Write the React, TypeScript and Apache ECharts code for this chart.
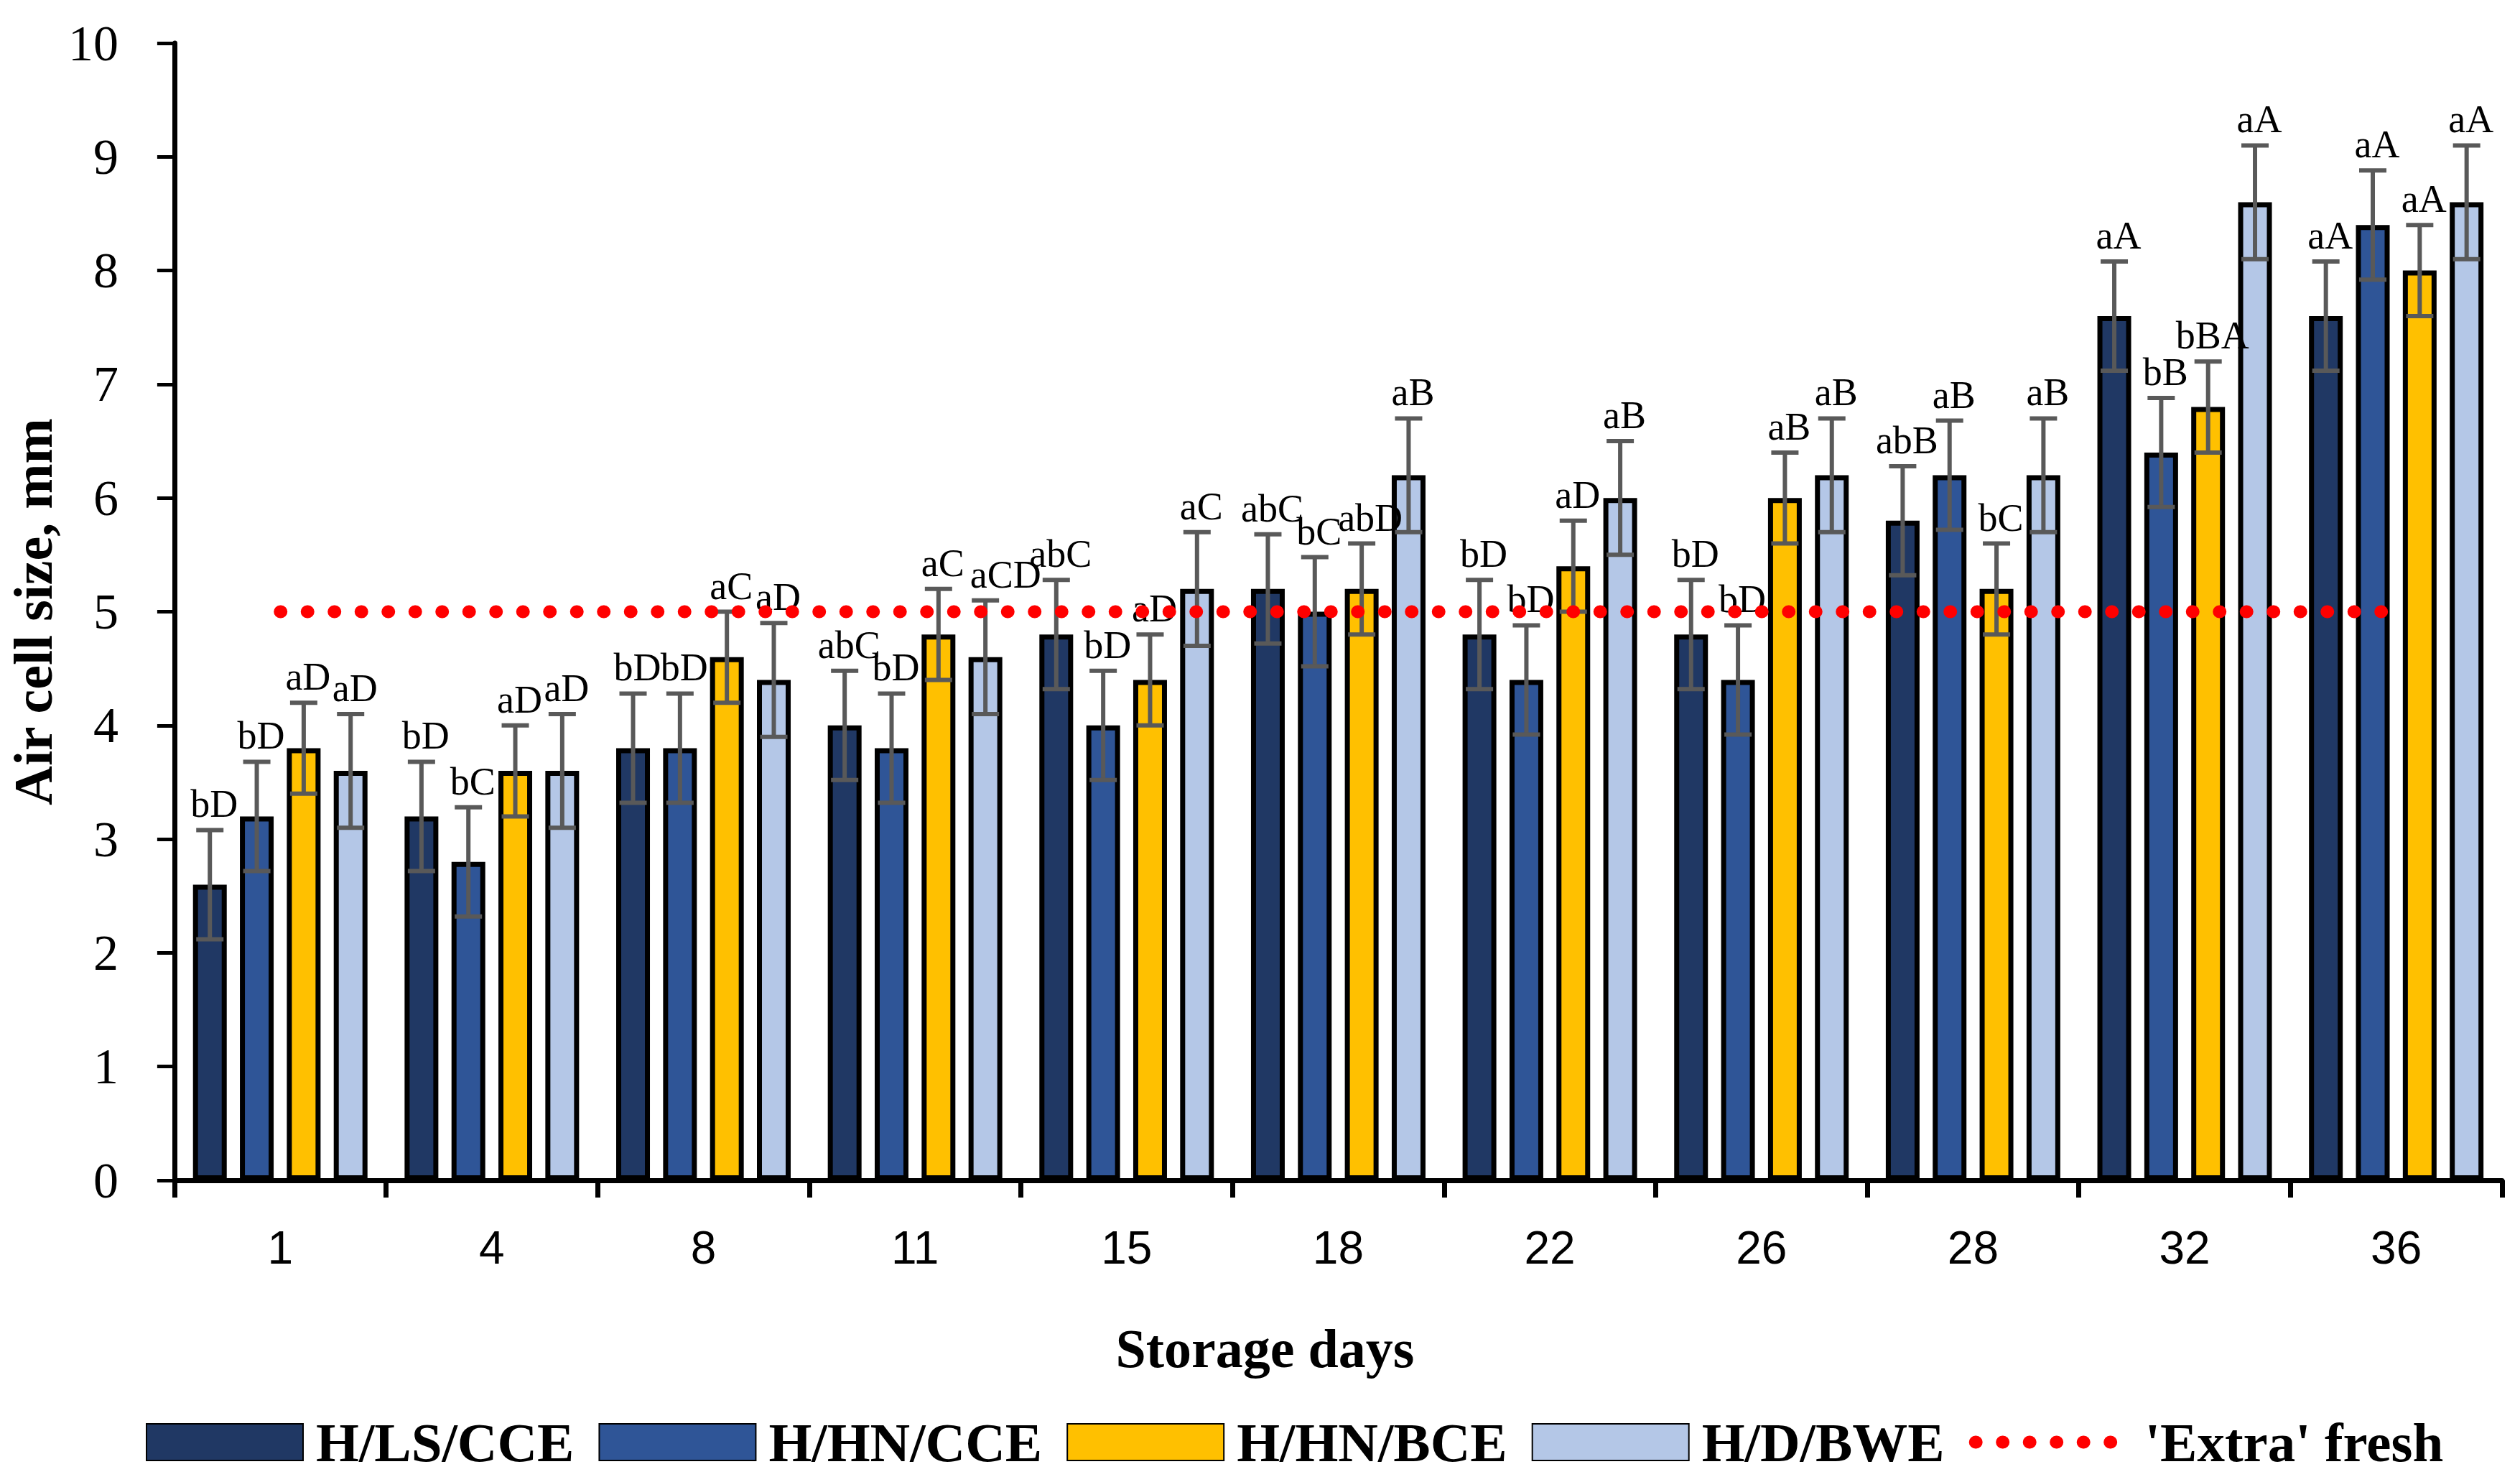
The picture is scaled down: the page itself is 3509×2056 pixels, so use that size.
import React, { useEffect, useRef } from "react";
import * as echarts from "echarts";

const days = ["1", "4", "8", "11", "15", "18", "22", "26", "28", "32", "36"];
const seriesNames = ["H/LS/CCE", "H/HN/CCE", "H/HN/BCE", "H/D/BWE"];
const extraFreshName = "'Extra' fresh";

const lsCCE = [2.6, 3.2, 3.8, 4.0, 4.8, 5.2, 4.8, 4.8, 5.8, 7.6, 7.6];
const hnCCE = [3.2, 2.8, 3.8, 3.8, 4.0, 5.0, 4.4, 4.4, 6.2, 6.4, 8.4];
const hnBCE = [3.8, 3.6, 4.6, 4.8, 4.4, 5.2, 5.4, 6.0, 5.2, 6.8, 8.0];
const dBWE = [3.6, 3.6, 4.4, 4.6, 5.2, 6.2, 6.0, 6.2, 6.2, 8.6, 8.6];

const errLS = [0.48, 0.48, 0.48, 0.48, 0.48, 0.48, 0.48, 0.48, 0.48, 0.48, 0.48];
const errHN = [0.48, 0.48, 0.48, 0.48, 0.48, 0.48, 0.48, 0.48, 0.48, 0.48, 0.48];
const errBCE = [0.4, 0.4, 0.4, 0.4, 0.4, 0.4, 0.4, 0.4, 0.4, 0.4, 0.4];
const errBWE = [0.5, 0.5, 0.5, 0.5, 0.5, 0.5, 0.5, 0.5, 0.5, 0.5, 0.5];

const lblLS = ["bD", "bD", "bD", "abC", "abC", "abC", "bD", "bD", "abB", "aA", "aA"];
const lblHN = ["bD", "bC", "bD", "bD", "bD", "bC", "bD", "bD", "aB", "bB", "aA"];
const lblBCE = ["aD", "aD", "aC", "aC", "aD", "abD", "aD", "aB", "bC", "bBA", "aA"];
const lblBWE = ["aD", "aD", "aD", "aCD", "aC", "aB", "aB", "aB", "aB", "aA", "aA"];

const extraFresh = [5, 5, 5, 5, 5, 5, 5, 5, 5, 5, 5];

// small horizontal nudges (px) for crowded labels, keyed "series-category"
const labelNudge: Record<string, number> = { "3-3": 22, "2-5": 6 };

const colors = ["#203864", "#2F5597", "#FFC000", "#B4C7E7"];
const SERIF = "Liberation Serif";
const SANS = "Liberation Sans";

export default function App() {
  const ref = useRef<HTMLDivElement>(null);
  useEffect(() => {
    if (!ref.current) return;
    const chart = echarts.init(ref.current, undefined, { renderer: "svg" });
    const values = [lsCCE, hnCCE, hnBCE, dBWE];
    const errs = [errLS, errHN, errBCE, errBWE];
    const labels = [lblLS, lblHN, lblBCE, lblBWE];
    const BW = 47;
    const GAP = 0.39;
    const pitch = BW * (1 + GAP);
    const total = 4 * BW + 3 * BW * GAP;

    const barSeries = seriesNames.map((name, i) => ({
      name,
      type: "bar",
      data: values[i],
      barWidth: BW,
      barGap: GAP * 100 + "%",
      itemStyle: { color: colors[i], borderColor: "#000", borderWidth: 7 },
      z: 2,
    }));

    const errSeries = seriesNames.map((name, i) => {
      const offset = -total / 2 + BW / 2 + i * pitch;
      return {
        name: "err" + i,
        type: "custom",
        z: 3,
        data: values[i].map((v, k) => [k, v, errs[i][k]]),
        encode: { x: 0, y: 1 },
        renderItem: (params: any, api: any) => {
          const ci = api.value(0);
          const v = api.value(1);
          const e = api.value(2);
          const top = api.coord([ci, v + e]);
          const bot = api.coord([ci, v - e]);
          const x = top[0] + offset;
          const st = { stroke: "#595959", lineWidth: 6 };
          const nudge = 6 + (labelNudge[i + "-" + params.dataIndex] || 0);
          return {
            type: "group",
            children: [
              { type: "line", shape: { x1: x, y1: top[1], x2: x, y2: bot[1] }, style: st },
              { type: "line", shape: { x1: x - 19, y1: top[1], x2: x + 19, y2: top[1] }, style: st },
              { type: "line", shape: { x1: x - 19, y1: bot[1], x2: x + 19, y2: bot[1] }, style: st },
              {
                type: "text",
                x: x + nudge,
                y: top[1] - 9,
                style: {
                  text: labels[i][params.dataIndex],
                  align: "center",
                  verticalAlign: "bottom",
                  fontFamily: SERIF,
                  fontSize: 54,
                  fill: "#000",
                },
              },
            ],
          };
        },
      };
    });

    const option: any = {
      animation: false,
      backgroundColor: "#fff",
      grid: { left: 234, right: 25, top: 60, bottom: 413, containLabel: false },
      legend: {
        left: 198,
        top: 1964,
        itemWidth: 218,
        itemHeight: 51,
        itemGap: 34,
        data: [
          ...seriesNames.map((n) => ({ name: n, icon: "rect" })),
          { name: extraFreshName, itemStyle: { opacity: 0 } },
        ],
        textStyle: {
          fontFamily: SERIF,
          fontSize: 77,
          fontWeight: "bold",
          color: "#000",
          padding: [0, 0, 0, 13],
        },
        lineStyle: { width: 18 },
      },
      xAxis: {
        type: "category",
        data: days,
        name: "Storage days",
        nameLocation: "middle",
        nameGap: 196,
        nameTextStyle: {
          fontFamily: SERIF,
          fontSize: 76,
          fontWeight: "bold",
          color: "#000",
          padding: [0, 204, 0, 0],
        },
        axisLine: { lineStyle: { color: "#000", width: 7 } },
        axisTick: { show: true, length: 24, lineStyle: { color: "#000", width: 7 } },
        axisLabel: { fontFamily: SANS, fontSize: 64, color: "#000", margin: 62 },
        splitLine: { show: false },
      },
      yAxis: {
        type: "value",
        min: 0,
        max: 10,
        interval: 1,
        name: "Air cell size, mm",
        nameLocation: "middle",
        nameGap: 145,
        nameTextStyle: { fontFamily: SERIF, fontSize: 76, fontWeight: "bold", color: "#000" },
        axisLine: { show: true, lineStyle: { color: "#000", width: 7 } },
        axisTick: { show: true, length: 24, lineStyle: { color: "#000", width: 5 } },
        axisLabel: { fontFamily: SERIF, fontSize: 70, color: "#000", margin: 78 },
        splitLine: { show: false },
      },
      series: [
        ...barSeries,
        ...errSeries,
        {
          name: extraFreshName,
          type: "line",
          data: extraFresh,
          symbol: "none",
          z: 5,
          itemStyle: { color: "#FF0000" },
          lineStyle: { color: "#FF0000", width: 18, type: [1, 36.5], cap: "round" },
        },
      ],
    };
    chart.setOption(option);
    return () => chart.dispose();
  }, []);
  return (
    <div
      ref={ref}
      style={{ position: "fixed", left: 0, top: 0, width: 3509, height: 2056, background: "#fff" }}
    />
  );
}
